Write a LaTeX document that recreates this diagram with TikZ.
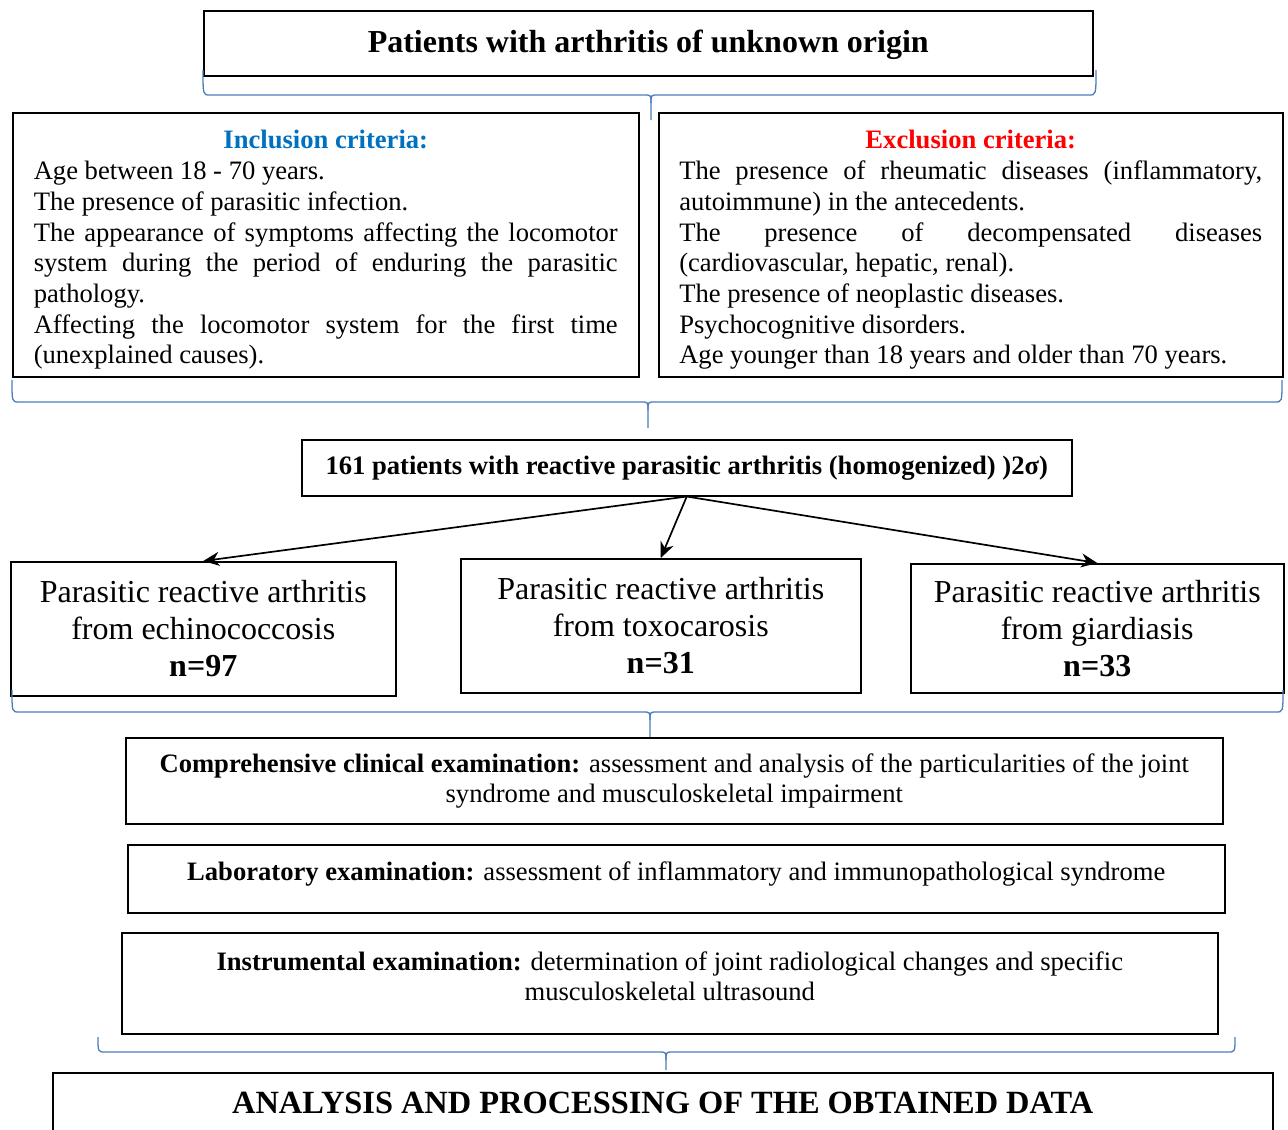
\documentclass[tikz,border=0pt]{standalone}
\usepackage{fontspec}
\setmainfont{Liberation Serif}
\usetikzlibrary{arrows.meta}
\definecolor{bracecol}{HTML}{4A7EBB}
\definecolor{incblue}{HTML}{0070C0}
\definecolor{excred}{HTML}{FF0000}
\newcommand\bodyfont{\fontsize{26.6}{30.7}\selectfont\hyphenpenalty=10000\exhyphenpenalty=10000\tolerance=10000\emergencystretch=40pt}
\newcommand\grpfont{\fontsize{32}{37}\selectfont}
\newcommand\mybrace[6]{% x1 x2 xtip ytop yh ytip
  \draw[bracecol, line width=1.3pt]
    (#1,#4) .. controls (#1,#5) .. (#1+7,#5) -- (#3-7,#5) .. controls (#3,#5) .. (#3,#5+8) -- (#3,#6);
  \draw[bracecol, line width=1.3pt]
    (#2,#4) .. controls (#2,#5) .. (#2-7,#5) -- (#3+7,#5) .. controls (#3,#5) .. (#3,#5+8);
}
\begin{document}
\begin{tikzpicture}[x=1pt,y=-1pt,
  box/.style={draw, line width=1.5pt, inner sep=0pt, anchor=north west, align=center},
  crit/.style={box, align=justify, font=\bodyfont},
  grp/.style={box, font=\grpfont},
  exam/.style={box, font=\fontsize{26.6}{30.5}\selectfont},
  arr/.style={line width=1.7pt, -{Stealth[length=16pt,width=14pt]}}
]
\clip (0,0) rectangle (1288,1130);
\fill[white] (0,0) rectangle (1288,1130);

\node[box, minimum width=889pt, minimum height=65pt, font=\fontsize{32}{36}\selectfont\bfseries] (top) at (203,10) {\rule{0pt}{26pt}Patients with arthritis of unknown origin};

\mybrace{203}{1096}{651}{70}{95}{120}

\node[crit, minimum width=626pt, minimum height=264pt, text width=584pt] (inc) at (12,112)
{\setlength{\parindent}{0pt}\centerline{\rule{0pt}{29pt}\textcolor{incblue}{\bfseries Inclusion criteria:}}
Age between 18 - 70 years.\par
The presence of parasitic infection.\par
The appearance of symptoms affecting the locomotor system during the period of enduring the parasitic pathology.\par
Affecting the locomotor system for the first time (unexplained causes).};

\node[crit, minimum width=624pt, minimum height=264pt, text width=583pt] (exc) at (658,112)
{\setlength{\parindent}{0pt}\centerline{\rule{0pt}{29pt}\textcolor{excred}{\bfseries Exclusion criteria:}}
The presence of rheumatic diseases (inflammatory, autoimmune) in the antecedents.\par
The presence of decompensated diseases (cardiovascular, hepatic, renal).\par
The presence of neoplastic diseases.\par
Psychocognitive disorders.\par
Age younger than 18 years and older than 70 years.};

\mybrace{12}{1282}{648}{380}{402}{428}

\node[box, minimum width=770pt, minimum height=56pt, font=\fontsize{26.6}{30}\selectfont\bfseries] (sum) at (301,439)
{161 patients with reactive parasitic arthritis (homogenized) )2σ)};

\node[grp, minimum width=385pt, minimum height=134pt] (echi) at (10,561)
{Parasitic reactive arthritis\\from echinococcosis\\\textbf{n=97}};
\node[grp, minimum width=400pt, minimum height=134pt] (toxo) at (460,558)
{Parasitic reactive arthritis\\from toxocarosis\\\textbf{n=31}};
\node[grp, minimum width=373pt, minimum height=129pt] (giar) at (910,563)
{Parasitic reactive arthritis\\from giardiasis\\\textbf{n=33}};

\draw[arr] (sum.south) -- (echi.north);
\draw[arr] (sum.south) -- (toxo.north);
\draw[arr] (sum.south) -- (giar.north);

\mybrace{12}{1283}{650}{690}{712}{738}

\node[exam, minimum width=1097pt, minimum height=86pt] (clin) at (125,737)
{\textbf{Comprehensive clinical examination:} assessment and analysis of the particularities of the joint\\syndrome and musculoskeletal impairment};

\node[exam, minimum width=1097pt, minimum height=68pt] (lab) at (127,844)
{\textbf{Laboratory examination:} assessment of inflammatory and immunopathological syndrome\\[-16pt]};

\node[exam, minimum width=1096pt, minimum height=101pt] (inst) at (121,932)
{\textbf{Instrumental examination:} determination of joint radiological changes and specific\\musculoskeletal ultrasound\\[-16pt]};

\mybrace{98}{1235}{666}{1037}{1052}{1070}

\node[box, minimum width=1220pt, minimum height=60pt, font=\fontsize{32.4}{36}\selectfont\bfseries] (final) at (52,1072)
{ANALYSIS AND PROCESSING OF THE OBTAINED DATA};
\end{tikzpicture}
\end{document}
